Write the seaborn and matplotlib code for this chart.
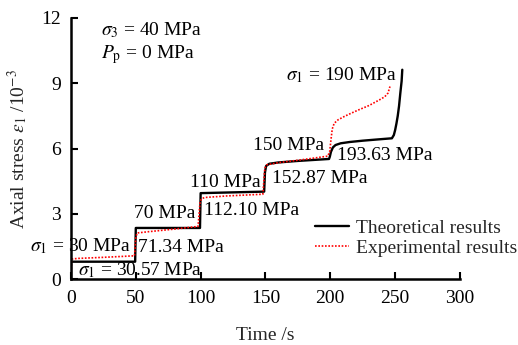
import numpy as np
import pandas as pd
import matplotlib
matplotlib.use("Agg")
import matplotlib.pyplot as plt
import seaborn as sns

# Theoretical creep curve (time in s, axial strain in 1e-3)
theo_t = [0, 0, 49.5, 50, 99.5, 100, 149, 149.6, 150.5, 153, 160, 175, 199, 199.6,
          200.5, 202, 204, 208, 215, 225, 235, 247.5, 249, 250, 251, 252, 253,
          254, 255, 255.5]
theo_e = [0, 0.80, 0.80, 2.35, 2.35, 3.95, 4.02, 4.9, 5.2, 5.30, 5.36, 5.43, 5.52,
          5.62, 5.85, 6.05, 6.16, 6.24, 6.30, 6.36, 6.41, 6.47, 6.62, 6.85, 7.15,
          7.5, 7.95, 8.55, 9.1, 9.62]

# Experimental creep curve
exp_t = [0, 0.5, 5, 25, 49, 50, 51, 60, 80, 98, 99.5, 100.5, 103, 120, 148,
         149.5, 151, 160, 180, 198, 199.5, 200.5, 201.5, 203, 206, 211, 216,
         222, 230, 238, 242, 244.5, 246]
exp_e = [0, 0.92, 0.95, 1.00, 1.07, 1.9, 2.12, 2.18, 2.30, 2.42, 3.5, 3.68,
         3.75, 3.82, 3.90, 5.1, 5.25, 5.35, 5.50, 5.65, 5.85, 6.4, 6.9, 7.16,
         7.32, 7.48, 7.62, 7.78, 7.98, 8.24, 8.38, 8.55, 8.85]

# Stress-level annotations: (text, time, strain at baseline)
labels = [
    (r"$\sigma_3$ = 40 MPa", 23.5, 11.22),
    (r"$P_\mathrm{p}$ = 0 MPa", 23.5, 10.15),
    (r"$\sigma_1$ = 190 MPa", 165.8, 9.15),
    ("150 MPa", 140.5, 5.93),
    ("193.63 MPa", 204.8, 5.47),
    ("152.87 MPa", 154.8, 4.40),
    ("110 MPa", 91.5, 4.24),
    ("112.10 MPa", 102.5, 2.94),
    ("70 MPa", 48.8, 2.79),
    ("71.34 MPa", 51.9, 1.26),
    (r"$\sigma_1$ = 30 MPa", -31.6, 1.30),
    (r"$\sigma_1$ = 30.57 MPa", 5.6, 0.18),
]

sns.set_theme(style="ticks")
plt.rcParams["font.family"] = ["Liberation Serif", "DejaVu Serif"]
plt.rcParams["mathtext.fontset"] = "stix"
plt.rcParams["font.size"] = 14

fig = plt.figure(figsize=(5.18, 3.45), dpi=100)
ax = fig.add_axes([0.137, 0.191, 0.751, 0.757])

theo = pd.DataFrame({"t": theo_t, "e": theo_e})
expd = pd.DataFrame({"t": exp_t, "e": exp_e})
sns.lineplot(data=theo, x="t", y="e", sort=False, estimator=None, ax=ax,
             color="black", linewidth=1.7, label="Theoretical results")
sns.lineplot(data=expd, x="t", y="e", sort=False, estimator=None, ax=ax,
             color="red", linewidth=1.2, linestyle=(0, (1, 1)),
             label="Experimental results")

ax.set_xlim(0, 300)
ax.set_ylim(0, 12)
ax.set_xticks(np.arange(0, 301, 50))
ax.set_yticks([0, 3, 6, 9, 12])
ax.tick_params(direction="in", length=5, width=1.5, labelsize=14, colors="black")
ax.tick_params(axis="x", pad=8)
ax.tick_params(axis="y", pad=7)
for side in ("top", "right"):
    ax.spines[side].set_visible(False)
for side in ("left", "bottom"):
    ax.spines[side].set_linewidth(1.8)
    ax.spines[side].set_color("black")

ax.set_xlabel("Time /s", fontsize=14, labelpad=14)
ax.set_ylabel(r"Axial stress $\varepsilon_1$ /10$^{-3}$", fontsize=14, labelpad=8)

for txt, x, y in labels:
    ax.text(x, y, txt, fontsize=14, ha="left", va="baseline", color="black")

ax.legend(loc="center left", bbox_to_anchor=(0.627, 0.157), frameon=False,
          fontsize=14, handlelength=1.75, handletextpad=0.35, borderpad=0,
          borderaxespad=0, labelspacing=0.1)

fig.savefig("out.png", dpi=100)
